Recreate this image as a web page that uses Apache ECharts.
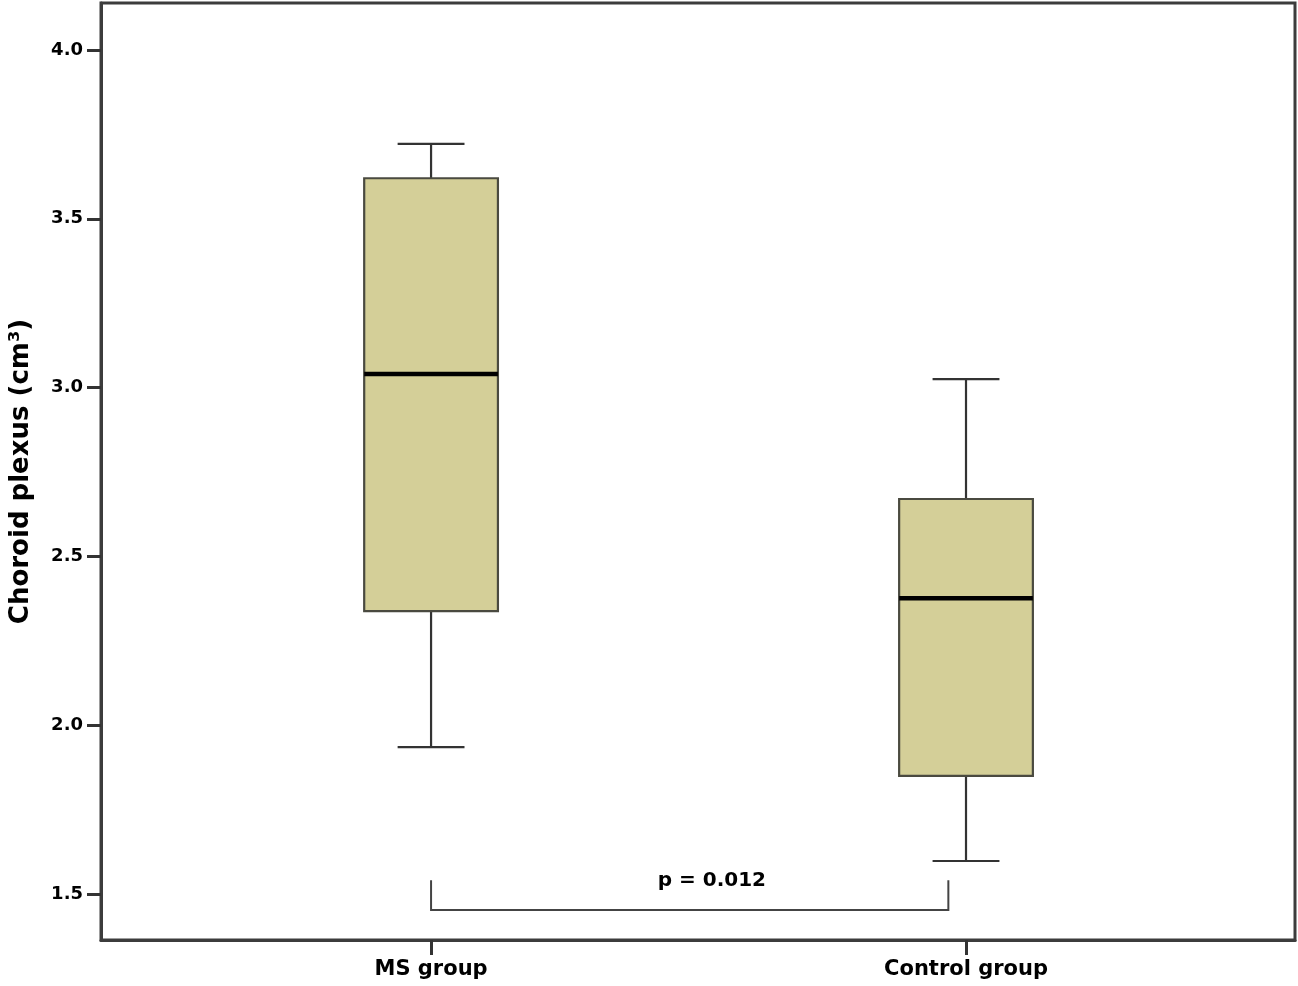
<!DOCTYPE html>
<html>
<head>
<meta charset="utf-8">
<style>
html,body{margin:0;padding:0;background:#fff;}
#chart{width:1298px;height:986px;}
</style>
<script src="https://cdn.jsdelivr.net/npm/echarts@6/dist/echarts.min.js"></script>
</head>
<body>
<div id="chart"></div>
<script>
// ---- data ----
const categories = ['MS group', 'Control group'];
const boxMin    = [1.935, 1.598];
const boxQ1     = [2.338, 1.850];
const boxMedian = [3.040, 2.376];
const boxQ3     = [3.620, 2.670];
const boxMax    = [3.722, 3.025];
const yTicks = [1.5, 2.0, 2.5, 3.0, 3.5, 4.0];
const bracketX = [0, 0.967];
const bracketY = [1.453, 1.541];
const pText = 'p = 0.012';
const pTextPos = [0.525, 1.539];

const FONT = 'DejaVu Sans';
const chart = echarts.init(document.getElementById('chart'));

const boxData = categories.map((c, i) => [i, boxMin[i], boxQ1[i], boxMedian[i], boxQ3[i], boxMax[i]]);

function renderBox(params, api) {
  const x = api.value(0);
  const pMin = api.coord([x, api.value(1)]);
  const pQ1 = api.coord([x, api.value(2)]);
  const pMed = api.coord([x, api.value(3)]);
  const pQ3 = api.coord([x, api.value(4)]);
  const pMax = api.coord([x, api.value(5)]);
  const w = api.size([0.25, 0])[0];
  const cx = pMed[0];
  const cap = w / 4;
  const lineStyle = {stroke: '#333', lineWidth: 2.2};
  return {
    type: 'group',
    children: [
      {type: 'line', shape: {x1: cx, y1: pQ3[1], x2: cx, y2: pMax[1]}, style: lineStyle},
      {type: 'line', shape: {x1: cx - cap, y1: pMax[1], x2: cx + cap, y2: pMax[1]}, style: lineStyle},
      {type: 'line', shape: {x1: cx, y1: pQ1[1], x2: cx, y2: pMin[1]}, style: lineStyle},
      {type: 'line', shape: {x1: cx - cap, y1: pMin[1], x2: cx + cap, y2: pMin[1]}, style: lineStyle},
      {type: 'rect', shape: {x: cx - w / 2, y: pQ3[1], width: w, height: pQ1[1] - pQ3[1]},
        style: {fill: '#d4cf98', stroke: '#4a4a40', lineWidth: 2.2}},
      {type: 'line', shape: {x1: cx - w / 2, y1: pMed[1], x2: cx + w / 2, y2: pMed[1]},
        style: {stroke: '#000', lineWidth: 4.5}}
    ]
  };
}

function renderBracket(params, api) {
  const a = api.coord([bracketX[0], bracketY[1]]);
  const b = api.coord([bracketX[0], bracketY[0]]);
  const c = api.coord([bracketX[1], bracketY[0]]);
  const d = api.coord([bracketX[1], bracketY[1]]);
  const t = api.coord(pTextPos);
  return {
    type: 'group',
    children: [
      {type: 'polyline', shape: {points: [a, b, c, d]}, style: {stroke: '#444', lineWidth: 2, fill: null}},
      {type: 'text', x: t[0], y: t[1], style: {text: pText, fill: '#000', align: 'center', verticalAlign: 'middle',
        font: 'bold 20px "' + FONT + '"'}}
    ]
  };
}

chart.setOption({
  backgroundColor: '#fff',
  animation: false,
  grid: {left: 99, right: 3, top: 3, bottom: 46, show: true, borderColor: '#3c3c3c', borderWidth: 3, backgroundColor: 'transparent'},
  xAxis: {
    type: 'value', min: -0.617, max: 1.615,
    splitLine: {show: false},
    axisLine: {show: true, onZero: false, lineStyle: {color: '#3c3c3c', width: 3}},
    axisTick: {show: true, customValues: [0, 1], length: 15, lineStyle: {color: '#333', width: 3}},
    axisLabel: {show: true, customValues: [0, 1], margin: 19,
      formatter: v => categories[Math.round(v)] || '',
      color: '#000', fontFamily: FONT, fontWeight: 'bold', fontSize: 21}
  },
  yAxis: {
    type: 'value', min: 1.364, max: 4.139,
    name: 'Choroid plexus (cm\u00B3)', nameLocation: 'middle', nameGap: 67,
    nameTextStyle: {color: '#000', fontFamily: FONT, fontWeight: 'bold', fontSize: 26},
    splitLine: {show: false},
    axisLine: {show: true, onZero: false, lineStyle: {color: '#3c3c3c', width: 3}},
    axisTick: {show: true, customValues: yTicks, length: 14, lineStyle: {color: '#333', width: 3}},
    axisLabel: {show: true, customValues: yTicks, margin: 18,
      formatter: v => v.toFixed(1),
      color: '#000', fontFamily: FONT, fontWeight: 'bold', fontSize: 18}
  },
  series: [
    {type: 'custom', renderItem: renderBox, data: boxData, encode: {x: 0, y: [1, 2, 3, 4, 5]}, z: 3, silent: true},
    {type: 'custom', renderItem: renderBracket, data: [[bracketX[0], bracketY[0]]], z: 3, silent: true}
  ]
});
</script>
</body>
</html>
